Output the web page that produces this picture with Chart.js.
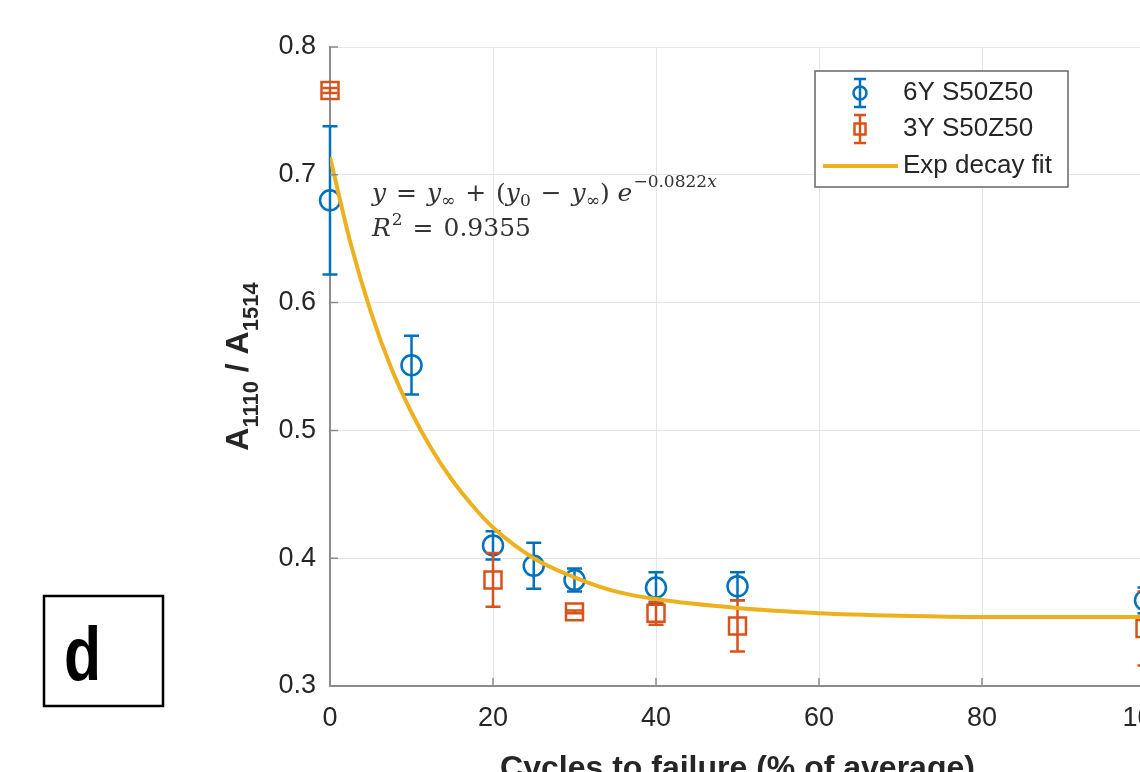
<!DOCTYPE html>
<html>
<head>
<meta charset="utf-8">
<script src="https://cdn.jsdelivr.net/npm/chart.js@4.4.0/dist/chart.umd.min.js"></script>
<style>
  html, body { margin: 0; padding: 0; background: #fff; overflow: hidden; }
  canvas { display: block; }
</style>
</head>
<body>
<canvas id="chart-output" width="1200" height="800"></canvas>
<script>
// 6Y S50Z50 - mean ratio and error bar half size
const x6Y = [0, 10, 20, 25, 30, 40, 50, 100];
const y6Y = [0.680, 0.551, 0.410, 0.394, 0.383, 0.377, 0.378, 0.367];
const err6Y = [0.058, 0.023, 0.011, 0.018, 0.009, 0.012, 0.011, 0.010];

// 3Y S50Z50
const x3Y = [0, 20, 30, 40, 50, 100];
const y3Y = [0.766, 0.383, 0.358, 0.357, 0.347, 0.345];
const err3Y = [0.002, 0.021, 0.001, 0.009, 0.020, 0.029];

// exp decay fit
const fitX = [0, 2.5, 5, 7.5, 10, 12.5, 15, 17.5, 20, 25, 30, 35, 40, 50, 60, 70, 80, 90, 100];
const fitY = [0.714, 0.647, 0.593, 0.549, 0.514, 0.485, 0.461, 0.441, 0.424, 0.400, 0.385, 0.374, 0.368, 0.361, 0.357, 0.355, 0.354, 0.354, 0.354];

// axis ticks
const xTicks = [0, 20, 40, 60, 80, 100];
const yTicks = [0.3, 0.4, 0.5, 0.6, 0.7, 0.8];

const BLUE = "#0072BD";
const ORANGE = "#D95319";
const YELLOW = "#EDB120";
const TEXT = "#262626";
const SANS = '"Liberation Sans", Arial, sans-serif';
const SERIF = '"DejaVu Serif", "Liberation Serif", serif';

const toPoints = (xs, ys) => xs.map((x, i) => ({ x: x, y: ys[i] }));

// draws a run of text pieces one after another (for sub/superscripts)
const drawRuns = (ctx, x, y, runs) => {
  for (let r of runs) {
    ctx.font = r.font;
    ctx.fillText(r.text, x, y + (r.dy || 0));
    x += ctx.measureText(r.text).width + (r.gap || 0);
  }
  return x;
};
const runsWidth = (ctx, runs) => {
  let w = 0;
  for (let r of runs) {
    ctx.font = r.font;
    w += ctx.measureText(r.text).width + (r.gap || 0);
  }
  return w;
};

// error bars drawn right after their own dataset
const errorBars = {
  id: "errorBars",
  afterDatasetDraw(chart, args) {
    const ds = chart.data.datasets[args.index];
    if (!ds.errors) return;
    const ctx = chart.ctx;
    const xs = chart.scales.x;
    const ys = chart.scales.y;
    ctx.save();
    ctx.strokeStyle = ds.borderColor;
    ctx.lineWidth = 2.5;
    ds.data.forEach((p, i) => {
      const px = xs.getPixelForValue(p.x);
      const top = ys.getPixelForValue(p.y + ds.errors[i]);
      const bot = ys.getPixelForValue(p.y - ds.errors[i]);
      ctx.beginPath();
      ctx.moveTo(px, top);
      ctx.lineTo(px, bot);
      ctx.moveTo(px - 7.5, top);
      ctx.lineTo(px + 7.5, top);
      ctx.moveTo(px - 7.5, bot);
      ctx.lineTo(px + 7.5, bot);
      ctx.stroke();
    });
    ctx.restore();
  },
};

// inner tick marks, axis title with subscripts, equation, legend, panel label
const decorations = {
  id: "decorations",
  afterDraw(chart) {
    const ctx = chart.ctx;
    const area = chart.chartArea;
    const xs = chart.scales.x;
    const ys = chart.scales.y;
    ctx.save();

    // inward ticks like matlab
    ctx.strokeStyle = "#8c8c8c";
    ctx.lineWidth = 1.5;
    ctx.beginPath();
    for (let v of xTicks) {
      const px = xs.getPixelForValue(v);
      ctx.moveTo(px, area.bottom);
      ctx.lineTo(px, area.bottom - 8);
    }
    for (let v of yTicks) {
      const py = ys.getPixelForValue(v);
      ctx.moveTo(area.left, py);
      ctx.lineTo(area.left + 8, py);
    }
    ctx.stroke();

    // y axis title  A1110 / A1514
    ctx.fillStyle = TEXT;
    ctx.textBaseline = "alphabetic";
    ctx.textAlign = "left";
    const big = "bold 32px " + SANS;
    const sub = "bold 22px " + SANS;
    const yTitle = [
      { text: "A", font: big },
      { text: "1110", font: sub, dy: 10 },
      { text: " / ", font: big },
      { text: "A", font: big },
      { text: "1514", font: sub, dy: 10 },
    ];
    ctx.save();
    ctx.translate(248, (area.top + area.bottom) / 2);
    ctx.rotate(-Math.PI / 2);
    drawRuns(ctx, -runsWidth(ctx, yTitle) / 2, 0, yTitle);
    ctx.restore();

    // fit equation
    const it = "italic 25px " + SERIF;
    const rm = "25px " + SERIF;
    const sm = "17px " + SERIF;
    const smIt = "italic 17px " + SERIF;
    ctx.fillStyle = "#333";
    drawRuns(ctx, 372, 201, [
      { text: "y", font: it, gap: 2 },
      { text: " = ", font: rm, gap: 2 },
      { text: "y", font: it },
      { text: "\u221E", font: sm, dy: 5, gap: 2 },
      { text: " + ", font: rm, gap: 2 },
      { text: "(", font: rm },
      { text: "y", font: it },
      { text: "0", font: sm, dy: 5, gap: 2 },
      { text: " \u2212 ", font: rm, gap: 2 },
      { text: "y", font: it },
      { text: "\u221E", font: sm, dy: 5 },
      { text: ") ", font: rm },
      { text: "e", font: it, gap: 1 },
      { text: "\u22120.0822", font: sm, dy: -14 },
      { text: "x", font: smIt, dy: -14 },
    ]);
    drawRuns(ctx, 372, 236, [
      { text: "R", font: it, gap: 1 },
      { text: "2", font: sm, dy: -11, gap: 2 },
      { text: " = ", font: rm, gap: 2 },
      { text: "0.9355", font: rm },
    ]);

    // legend box
    ctx.fillStyle = "#fff";
    ctx.fillRect(815, 71, 253, 116);
    ctx.strokeStyle = "#666";
    ctx.lineWidth = 1.5;
    ctx.strokeRect(815, 71, 253, 116);

    const legendIcon = (cy, color, square) => {
      ctx.strokeStyle = color;
      ctx.lineWidth = 2.5;
      ctx.beginPath();
      ctx.moveTo(860, cy - 14);
      ctx.lineTo(860, cy + 14);
      ctx.moveTo(854, cy - 14);
      ctx.lineTo(866, cy - 14);
      ctx.moveTo(854, cy + 14);
      ctx.lineTo(866, cy + 14);
      ctx.stroke();
      ctx.beginPath();
      if (square) ctx.rect(854.5, cy - 5.5, 11, 11);
      else ctx.arc(860, cy, 6.5, 0, Math.PI * 2);
      ctx.stroke();
    };
    legendIcon(93, BLUE, false);
    legendIcon(129, ORANGE, true);
    ctx.strokeStyle = YELLOW;
    ctx.lineWidth = 4;
    ctx.beginPath();
    ctx.moveTo(823, 166);
    ctx.lineTo(898, 166);
    ctx.stroke();

    ctx.fillStyle = TEXT;
    ctx.font = "26px " + SANS;
    ctx.textBaseline = "middle";
    ctx.fillText("6Y S50Z50", 903, 93);
    ctx.fillText("3Y S50Z50", 903, 129);
    ctx.fillText("Exp decay fit", 903, 166);

    // panel label
    ctx.strokeStyle = "#000";
    ctx.lineWidth = 2.5;
    ctx.strokeRect(44, 596, 119, 110);
    ctx.fillStyle = "#000";
    ctx.textBaseline = "alphabetic";
    ctx.save();
    ctx.translate(64, 680);
    ctx.scale(0.8, 1);
    ctx.font = "bold 76px " + SANS;
    ctx.fillText("d", 0, 0);
    ctx.restore();

    ctx.restore();
  },
};

const ctx = document.querySelector("#chart-output").getContext("2d");

const config = {
  type: "scatter",
  data: {
    datasets: [
      {
        label: "Exp decay fit",
        data: toPoints(fitX, fitY),
        showLine: true,
        borderColor: YELLOW,
        borderWidth: 4,
        pointRadius: 0,
        cubicInterpolationMode: "monotone",
        order: 0,
      },
      {
        label: "6Y S50Z50",
        data: toPoints(x6Y, y6Y),
        errors: err6Y,
        pointStyle: "circle",
        pointRadius: 10,
        borderColor: BLUE,
        backgroundColor: "rgba(0,0,0,0)",
        borderWidth: 2.5,
        clip: false,
        order: 2,
      },
      {
        label: "3Y S50Z50",
        data: toPoints(x3Y, y3Y),
        errors: err3Y,
        pointStyle: "rect",
        pointRadius: 12,
        borderColor: ORANGE,
        backgroundColor: "rgba(0,0,0,0)",
        borderWidth: 2.5,
        clip: false,
        order: 1,
      },
    ],
  },
  options: {
    responsive: false,
    animation: false,
    devicePixelRatio: 1,
    layout: { padding: { left: 200, right: 55, top: 47, bottom: 0 } },
    plugins: {
      legend: { display: false },
      tooltip: { enabled: false },
    },
    scales: {
      x: {
        type: "linear",
        min: 0,
        max: 100,
        afterBuildTicks: (s) => {
          s.ticks = xTicks.map((v) => ({ value: v }));
        },
        afterFit: (s) => {
          s.height = 114;
        },
        grid: { color: "#e6e6e6", lineWidth: 1, drawTicks: false },
        border: { color: "#8c8c8c", width: 2 },
        ticks: {
          padding: 16,
          color: TEXT,
          font: { family: SANS, size: 27 },
          maxRotation: 0,
        },
        title: {
          display: true,
          text: "Cycles to failure (% of average)",
          color: TEXT,
          font: { family: SANS, size: 32, weight: "bold", lineHeight: 1.2 },
          padding: { top: 0, bottom: 12 },
        },
      },
      y: {
        type: "linear",
        min: 0.3,
        max: 0.8,
        afterBuildTicks: (s) => {
          s.ticks = yTicks.map((v) => ({ value: v }));
        },
        afterFit: (s) => {
          s.width = 130;
        },
        grid: { color: "#e6e6e6", lineWidth: 1, drawTicks: false },
        border: { color: "#8c8c8c", width: 2 },
        ticks: {
          padding: 14,
          color: TEXT,
          font: { family: SANS, size: 27 },
          callback: (v) => Number(v).toFixed(1),
        },
      },
    },
  },
  plugins: [errorBars, decorations],
};

new Chart(ctx, config);
</script>
</body>
</html>
